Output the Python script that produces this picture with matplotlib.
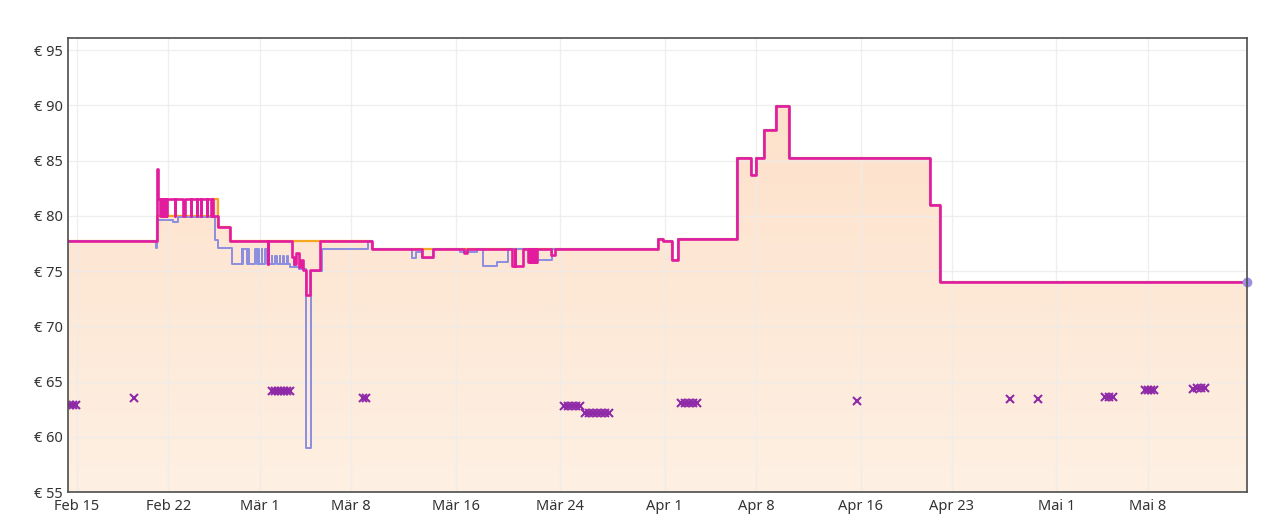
import matplotlib
matplotlib.use("Agg")
import matplotlib.pyplot as plt
import matplotlib.dates as mdates
from matplotlib.colors import LinearSegmentedColormap
import numpy as np
import pandas as pd

plt.rcParams['font.family'] = ['Noto Sans', 'DejaVu Sans']

# all series are given as (days after start, price in EUR)
start = pd.Timestamp("2023-02-15")
x_from, x_to = -0.69, 89.59

# Amazon price (orange line + filled area)
amazon_days = [-0.69, 6.14, 10.41, 10.80, 11.72, 22.56, 44.49, 44.87, 45.56, 46.02,
               50.54, 51.61, 51.97, 52.60, 53.50, 54.54, 65.31, 66.08, 89.59]
amazon_price = [77.7, 80.0, 81.5, 79.0, 77.7, 77.0, 77.9, 77.7, 76.0, 77.9,
                85.2, 83.7, 85.2, 87.8, 89.9, 85.2, 81.0, 74.0, 74.0]

# Buy box price (magenta)
buybox_days = [-0.69, 6.14, 6.19, 6.36, 6.42, 6.48, 6.54, 6.60, 6.66, 6.72, 6.78, 6.84, 6.89,
               7.50, 7.54, 8.12, 8.27, 8.71, 8.75, 9.17, 9.21, 9.47, 9.51, 9.93, 9.97,
               10.26, 10.30, 10.41, 10.80, 11.72, 14.60, 14.65, 16.44, 16.62, 16.80, 16.98,
               17.15, 17.30, 17.54, 17.84, 18.62, 22.56, 26.45, 27.25, 29.60, 29.85,
               33.28, 33.52, 33.55, 34.17, 34.53, 34.60, 34.66, 34.73, 34.79, 34.86,
               34.92, 34.99, 35.05, 35.12, 35.16, 35.22, 36.30, 36.60, 44.49, 44.87,
               45.56, 46.02, 50.54, 51.61, 51.97, 52.60, 53.50, 54.54, 65.31, 66.08, 89.59]
buybox_price = [77.7, 84.2, 81.5, 80.0, 81.5, 80.0, 81.5, 80.0, 81.5, 80.0, 81.5, 80.0, 81.5,
                80.0, 81.5, 80.0, 81.5, 80.0, 81.5, 80.0, 81.5, 80.0, 81.5, 80.0, 81.5,
                80.0, 81.5, 80.0, 79.0, 77.7, 75.6, 77.7, 76.3, 75.6, 76.6, 75.4,
                76.0, 75.1, 72.8, 75.1, 77.7, 77.0, 76.3, 77.0, 76.6, 77.0,
                75.5, 77.0, 75.5, 77.0, 75.8, 77.0, 75.8, 77.0, 75.8, 77.0,
                75.8, 77.0, 75.8, 77.0, 75.8, 77.0, 76.5, 77.0, 77.9, 77.7,
                76.0, 77.9, 85.2, 83.7, 85.2, 87.8, 89.9, 85.2, 81.0, 74.0, 74.0]

# New 3rd party price (blue)
new_days = [-0.69, 6.08, 6.16, 7.37, 7.76, 10.57, 10.82, 11.85, 12.61, 12.66, 12.73, 12.99,
            13.12, 13.16, 13.63, 13.76, 13.88, 13.92, 14.14, 14.18, 14.40, 14.53, 14.91,
            14.95, 15.16, 15.29, 15.54, 15.58, 15.80, 15.84, 16.06, 16.18, 16.31, 16.60,
            16.70, 17.00, 17.51, 17.89, 18.73, 22.30, 22.56, 25.65, 25.95, 26.45, 27.25,
            29.30, 30.60, 31.10, 32.13, 33.00, 35.20, 36.35, 44.49, 44.87, 45.56, 46.02,
            50.54, 51.61, 51.97, 52.60, 53.50, 54.54, 65.31, 66.08, 89.59]
new_price = [77.7, 77.1, 79.6, 79.45, 79.9, 77.8, 77.1, 75.6, 77.0, 75.6, 77.0, 75.6,
             77.0, 75.6, 77.0, 75.6, 77.0, 75.6, 77.0, 75.6, 77.0, 75.6, 76.4,
             75.6, 76.4, 75.6, 76.4, 75.6, 76.4, 75.6, 76.4, 75.6, 75.4, 76.0,
             75.4, 75.2, 59.0, 75.0, 77.0, 77.7, 77.0, 76.2, 76.7, 76.2, 77.0,
             76.7, 77.0, 75.5, 75.85, 77.0, 76.0, 77.0, 77.9, 77.7, 76.0, 77.9,
             85.2, 83.7, 85.2, 87.8, 89.9, 85.2, 81.0, 74.0, 74.0]

# Used offers (purple crosses)
used_days = [-0.55, -0.33, -0.10, 4.36, 14.93, 15.16, 15.39, 15.62, 15.85, 16.08, 16.31,
             21.90, 22.13, 37.29, 37.60, 37.90, 38.21, 38.51, 38.90, 39.20, 39.50, 39.82,
             40.12, 40.43, 40.74, 46.25, 46.55, 46.86, 47.17, 47.47, 59.72, 71.44, 73.58,
             78.71, 79.02, 79.33, 81.78, 82.01, 82.24, 82.47, 85.45, 85.76, 86.06, 86.37]
used_price = [62.9, 62.9, 62.9, 63.5, 64.1, 64.1, 64.1, 64.1, 64.1, 64.1, 64.1,
              63.5, 63.5, 62.8, 62.8, 62.8, 62.8, 62.8, 62.15, 62.15, 62.15, 62.15,
              62.15, 62.15, 62.15, 63.05, 63.05, 63.05, 63.05, 63.05, 63.2, 63.4, 63.4,
              63.6, 63.6, 63.6, 64.2, 64.2, 64.2, 64.2, 64.3, 64.45, 64.45, 64.45]

tick_dates = ["2023-02-15", "2023-02-22", "2023-03-01", "2023-03-08", "2023-03-16",
              "2023-03-24", "2023-04-01", "2023-04-08", "2023-04-16", "2023-04-23",
              "2023-05-01", "2023-05-08"]
tick_labels = ["Feb 15", "Feb 22", "Mär 1", "Mär 8", "Mär 16", "Mär 24", "Apr 1",
               "Apr 8", "Apr 16", "Apr 23", "Mai 1", "Mai 8"]
month_dates = ["2023-03-01", "2023-04-01", "2023-05-01"]
y_ticks = [55, 60, 65, 70, 75, 80, 85, 90, 95]


def to_time(days):
    return start + pd.to_timedelta(np.array(days), unit="D")


fig = plt.figure(figsize=(12.8, 5.27), dpi=100)
ax = fig.add_axes([68 / 1280, 35 / 527, 1179 / 1280, 454 / 527])

amz_t = to_time(amazon_days)
bb_t = to_time(buybox_days)
new_t = to_time(new_days)
used_t = to_time(used_days)
xlim = to_time([x_from, x_to])

# filled Amazon area with a soft vertical gradient
poly = ax.fill_between(amz_t, amazon_price, 55, step="post",
                       facecolor="none", edgecolor="none")
peach = LinearSegmentedColormap.from_list("peach", ["#fef0e3", "#fde1ca"])
x0, x1 = mdates.date2num(xlim[0]), mdates.date2num(xlim[1])
im = ax.imshow(np.linspace(0, 1, 256).reshape(-1, 1), extent=[x0, x1, 55, 90],
               origin="lower", cmap=peach, aspect="auto", zorder=1)
im.set_clip_path(poly.get_paths()[0], transform=ax.transData)

ax.step(amz_t, amazon_price, where="post", color="#f5a623", lw=1.6, zorder=3)
ax.step(new_t, new_price, where="post", color="#8b8ddf", lw=1.4, zorder=4)
ax.step(bb_t, buybox_price, where="post", color="#e31c9e", lw=1.9, zorder=5)
ax.plot(used_t, used_price, "x", color="#8e2aa8", ms=5.5, mew=1.5, zorder=6)
ax.plot(xlim[1:], [74.0], "o", color="#9b90e2", ms=6, zorder=7, clip_on=False)

ax.set_xlim(xlim[0], xlim[1])
ax.set_ylim(55, 96.1)

ax.set_xticks(pd.to_datetime(tick_dates))
ax.set_xticklabels(tick_labels)
ax.set_xticks(pd.to_datetime(month_dates), minor=True)
ax.set_yticks(y_ticks)
ax.set_yticklabels([f"€ {v}" for v in y_ticks])

ax.grid(True, which="major", color="#ececec", lw=1, alpha=0.8, zorder=2)
ax.set_axisbelow(False)
ax.tick_params(which="major", length=0, pad=4, labelsize=10.5, labelcolor="#333333")
ax.tick_params(axis="x", which="major", pad=5)
ax.tick_params(which="minor", direction="in", length=5, width=2, color="#b0b0b0")

for s in ax.spines.values():
    s.set_color("#4d4d4d")
    s.set_linewidth(1.2)
    s.set_zorder(8)

fig.savefig("out.png", dpi=100)
